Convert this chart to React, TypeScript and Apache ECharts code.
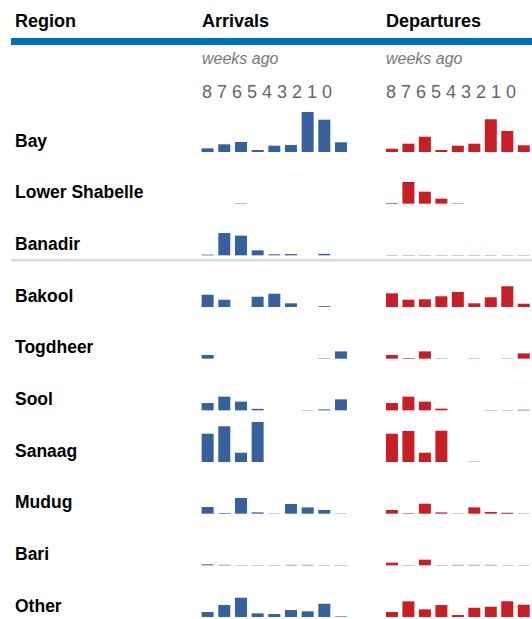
import React, { useEffect, useRef } from "react";
import * as echarts from "echarts";

const weeks = ["8", "7", "6", "5", "4", "3", "2", "1", "0"];
const regions = ["Bay", "Lower Shabelle", "Banadir", "Bakool", "Togdheer", "Sool", "Sanaag", "Mudug", "Bari", "Other"];

const arrBay = [3.7, 7.7, 10, 2, 6.3, 7, 40, 32.3, 9.7];
const depBay = [3.3, 8.3, 15.3, 2, 6.3, 8.3, 32.7, 21, 6.7];
const arrLowerShabelle = [0, 0, 0.4, 0, 0, 0, 0, 0, 0];
const depLowerShabelle = [0.7, 21.7, 12, 5, 0.4, 0, 0, 0, 0];
const arrBanadir = [0.7, 22.3, 19.7, 5, 1, 1.3, 0, 1.5, 0];
const depBanadir = [0.3, 0.3, 0.3, 0.3, 0.3, 0.3, 0.3, 0.3, 0.3];
const arrBakool = [12.3, 7.3, 0, 10.3, 13.3, 3.7, 0, 0.8, 0];
const depBakool = [13.7, 7.3, 7.7, 10.7, 15, 3.7, 9.7, 20.7, 3.3];
const arrTogdheer = [3.7, 0, 0, 0, 0, 0, 0, 0.4, 7.3];
const depTogdheer = [3.7, 0.6, 7.3, 0.3, 0, 0.3, 0, 0.3, 5.3];
const arrSool = [7.3, 13.7, 8.7, 1.5, 0, 0, 0.3, 1, 11];
const depSool = [7.3, 13.7, 8.7, 1.7, 0, 0, 0.3, 0.3, 0.6];
const arrSanaag = [28.3, 35.7, 9.3, 40, 0, 0, 0, 0, 0];
const depSanaag = [28.3, 31, 9.3, 31.3, 0, 0.3, 0, 0, 0];
const arrMudug = [6.7, 0.6, 15.7, 1.3, 0.3, 9.7, 6.3, 3.7, 0.3];
const depMudug = [3.7, 0.5, 10, 1.3, 0.3, 6.3, 1.7, 1, 0.3];
const arrBari = [1, 0.6, 0.3, 0.3, 0.3, 0.5, 0.5, 0.3, 0.3];
const depBari = [2.7, 0.3, 5.7, 0.3, 0.5, 0.5, 0.5, 0.3, 0.3];
const arrOther = [5, 12, 19.3, 3.7, 3, 7, 5.7, 13.3, 0.6];
const depOther = [5, 15.7, 7.7, 12, 2, 9.3, 10.3, 15.7, 12.3];

const arrivals = [arrBay, arrLowerShabelle, arrBanadir, arrBakool, arrTogdheer, arrSool, arrSanaag, arrMudug, arrBari, arrOther];
const departures = [depBay, depLowerShabelle, depBanadir, depBakool, depTogdheer, depSool, depSanaag, depMudug, depBari, depOther];

const BLUE = "#36619a";
const RED = "#c81f27";
const FONT = "Liberation Sans, Arial, sans-serif";

export default function App() {
  const ref = useRef<HTMLDivElement>(null);
  useEffect(() => {
    if (!ref.current) return;
    const chart = echarts.init(ref.current, undefined, { renderer: "svg" });
    const firstBase = 152;
    const step = 51.67;
    const H = 40;
    const cols = [
      { left: 199.3, data: arrivals, color: BLUE },
      { left: 383.7, data: departures, color: RED },
    ];
    const grid: any[] = [];
    const xAxis: any[] = [];
    const yAxis: any[] = [];
    const series: any[] = [];
    regions.forEach((_, r) => {
      const base = firstBase + step * r;
      cols.forEach((c) => {
        const gi = grid.length;
        grid.push({ left: c.left, top: base - H, width: 150, height: H });
        xAxis.push({ type: "category", gridIndex: gi, data: weeks, show: false });
        yAxis.push({ type: "value", gridIndex: gi, min: 0, max: H, show: false });
        series.push({
          type: "bar",
          xAxisIndex: gi,
          yAxisIndex: gi,
          data: c.data[r],
          barWidth: 12,
          itemStyle: { color: c.color },
          silent: true,
        });
      });
    });

    const head = (text: string, x: number) => ({
      type: "text",
      x,
      y: 20.5,
      style: { text, font: `bold 18px ${FONT}`, fill: "#000", verticalAlign: "middle" },
    });
    const graphic: any[] = [
      head("Region", 15),
      head("Arrivals", 202),
      head("Departures", 386),
      { type: "rect", shape: { x: 11, y: 38, width: 521, height: 7 }, style: { fill: "#0070c0" } },
      { type: "text", x: 202, y: 58.5, style: { text: "weeks ago", font: `italic 16px ${FONT}`, fill: "#777", verticalAlign: "middle" } },
      { type: "text", x: 386, y: 58.5, style: { text: "weeks ago", font: `italic 16px ${FONT}`, fill: "#777", verticalAlign: "middle" } },
      { type: "text", x: 202, y: 91.5, style: { text: weeks.join(" "), font: `18px ${FONT}`, fill: "#666", verticalAlign: "middle" } },
      { type: "text", x: 386, y: 91.5, style: { text: weeks.join(" "), font: `18px ${FONT}`, fill: "#666", verticalAlign: "middle" } },
      { type: "rect", shape: { x: 11, y: 259, width: 521, height: 2.5 }, style: { fill: "#d9d9d9" } },
    ];
    regions.forEach((name, r) => {
      graphic.push({
        type: "text",
        x: 15,
        y: firstBase + step * r - 11.5,
        style: { text: name, font: `bold 17.5px ${FONT}`, fill: "#000", verticalAlign: "middle" },
      });
    });

    chart.setOption({
      animation: false,
      grid,
      xAxis,
      yAxis,
      series,
      graphic,
    });
    return () => chart.dispose();
  }, []);
  return <div ref={ref} style={{ position: "absolute", left: 0, top: 0, width: 532, height: 619 }} />;
}
